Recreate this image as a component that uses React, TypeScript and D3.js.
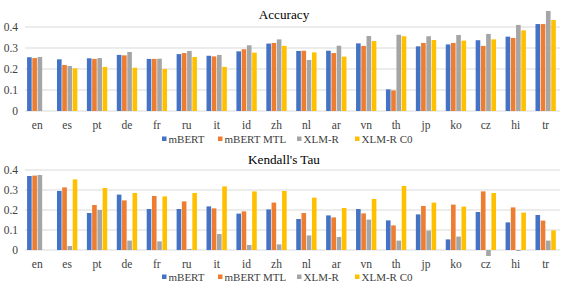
import React from "react";
import * as d3 from "d3";

const languages = ["en","es","pt","de","fr","ru","it","id","zh","nl","ar","vn","th","jp","ko","cz","hi","tr"];
const seriesNames = ["mBERT","mBERT MTL","XLM-R","XLM-R C0"];
const colors = ["#4472C4","#ED7D31","#A5A5A5","#FFC000"];
const yTicks = [0, 0.1, 0.2, 0.3, 0.4];

const accMBERT = [0.256,0.246,0.251,0.267,0.248,0.271,0.263,0.284,0.321,0.286,0.287,0.322,0.103,0.308,0.317,0.337,0.354,0.414];
const accMBERTMTL = [0.252,0.219,0.248,0.265,0.248,0.276,0.26,0.294,0.324,0.287,0.276,0.31,0.098,0.324,0.324,0.31,0.348,0.414];
const accXLMR = [0.257,0.214,0.252,0.281,0.249,0.286,0.267,0.313,0.341,0.243,0.311,0.357,0.363,0.356,0.362,0.367,0.41,0.476];
const accXLMRC0 = [null,0.203,0.21,0.206,0.2,0.257,0.21,0.278,0.31,0.279,0.259,0.333,0.356,0.338,0.335,0.341,0.384,0.433];

const tauMBERT = [0.37,0.295,0.185,0.277,0.205,0.205,0.218,0.182,0.203,0.155,0.173,0.205,0.148,0.178,0.053,0.19,0.138,0.175];
const tauMBERTMTL = [0.372,0.313,0.225,0.248,0.27,0.243,0.208,0.193,0.237,0.185,0.163,0.183,0.123,0.22,0.227,0.293,0.213,0.147];
const tauXLMR = [0.375,0.02,0.2,0.047,0.043,0.005,0.08,0.025,0.028,0.073,0.065,0.152,0.047,0.097,0.067,-0.03,-0.005,0.047];
const tauXLMRC0 = [null,0.353,0.31,0.285,0.268,0.285,0.318,0.293,0.295,0.262,0.21,0.255,0.32,0.237,0.217,0.285,0.187,0.098];

const FONT = "Liberation Serif, Times New Roman, DejaVu Serif, serif";

type Panel = {
  title: string;
  series: (number | null)[][];
  top: number;
  zero: number;
  titleY: number;
  labelY: number;
  legendY: number;
};

function BarPanel({ p }: { p: Panel }) {
  const x0 = d3.scaleBand<string>().domain(languages).range([22.3, 560.6]).paddingInner(0.32).paddingOuter(0.16);
  const x1 = d3.scaleBand<string>().domain(seriesNames).range([0, x0.bandwidth()]).paddingInner(0.12);
  const y = d3.scaleLinear().domain([0, 0.4]).range([p.zero, p.top]);
  const legendX = [162, 218, 297, 355];
  const txt = { fontFamily: FONT } as React.CSSProperties;
  return (
    <g>
      <text x={284} y={p.titleY} textAnchor="middle" style={txt} fontSize={13.2} fill="#000">{p.title}</text>
      {yTicks.map((t) => (
        <g key={t}>
          <line x1={25} x2={560} y1={y(t)} y2={y(t)} stroke="#d9d9d9" strokeWidth={1} />
          <text x={18} y={y(t)} dy="0.35em" textAnchor="end" style={txt} fontSize={11.5} fill="#404040">{t === 0 ? "0" : t.toFixed(1)}</text>
        </g>
      ))}
      {languages.map((lang, i) => (
        <g key={lang}>
          {p.series.map((s, j) => {
            const v = s[i];
            if (v === null || v === undefined) return null;
            const ya = y(v), yb = y(0);
            return (
              <rect key={j} x={(x0(lang) as number) + (x1(seriesNames[j]) as number)} y={Math.min(ya, yb)}
                width={x1.bandwidth()} height={Math.abs(yb - ya)} fill={colors[j]} />
            );
          })}
          <text x={(x0(lang) as number) + x0.bandwidth() / 2} y={p.labelY} textAnchor="middle" style={txt} fontSize={11.5} fill="#404040">{lang}</text>
        </g>
      ))}
      {seriesNames.map((n, j) => (
        <g key={n}>
          <rect x={legendX[j]} y={p.legendY - 6.5} width={4.5} height={4.5} fill={colors[j]} />
          <text x={legendX[j] + 6.5} y={p.legendY} style={txt} fontSize={11} fill="#404040">{n}</text>
        </g>
      ))}
    </g>
  );
}

export default function App() {
  const top: Panel = {
    title: "Accuracy",
    series: [accMBERT, accMBERTMTL, accXLMR, accXLMRC0],
    top: 27, zero: 111, titleY: 19, labelY: 129, legendY: 143,
  };
  const bottom: Panel = {
    title: "Kendall's Tau",
    series: [tauMBERT, tauMBERTMTL, tauXLMR, tauXLMRC0],
    top: 170, zero: 250, titleY: 163.5, labelY: 268, legendY: 281,
  };
  return (
    <svg width={566} height={286} style={{ position: "absolute", left: 0, top: 0, background: "#fff" }}>
      <rect width={566} height={286} fill="#fff" />
      <BarPanel p={top} />
      <BarPanel p={bottom} />
    </svg>
  );
}
